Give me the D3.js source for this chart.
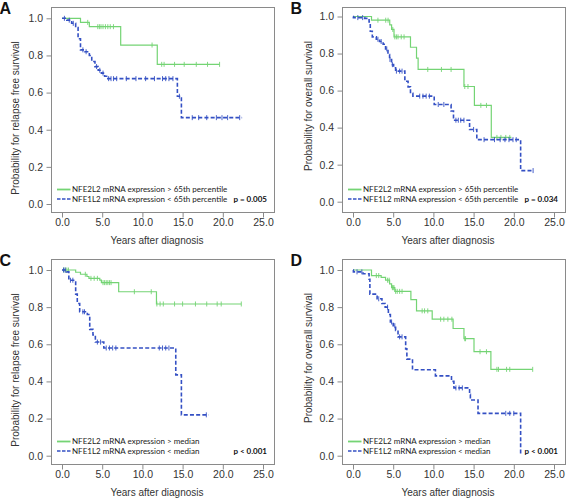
<!DOCTYPE html>
<html><head><meta charset="utf-8">
<script src="https://cdn.jsdelivr.net/npm/d3@7"></script>
<style>body{margin:0;background:#fff}</style>
</head><body>
<svg id="c" width="567" height="500" xmlns="http://www.w3.org/2000/svg"></svg>
<script>
// ---------- DATA ----------
const xTicks = [0, 5, 10, 15, 20, 25];
const yTicks = [0, 0.2, 0.4, 0.6, 0.8, 1.0];
const panelLabels = ["A", "B", "C", "D"];
const yTitles = ["Probability for relapse free survival", "Probability for overall survival",
                 "Probability for relapse free survival", "Probability for overall survival"];
const xTitle = "Years after diagnosis";
const legendHigh = ["NFE2L2 mRNA expression > 65th percentile", "NFE2L2 mRNA expression > 65th percentile",
                    "NFE2L2 mRNA expression > median", "NFE2L2 mRNA expression > median"];
const legendLow = ["NFE1L2 mRNA expression < 65th percentile", "NFE1L2 mRNA expression < 65th percentile",
                   "NFE1L2 mRNA expression < median", "NFE1L2 mRNA expression < median"];
const pValues = ["p = 0.005", "p = 0.034", "p < 0.001", "p < 0.001"];

// Panel A – high (green)
const aHighT = [2.3, 3.4, 7.3, 11.85];
const aHighS = [0.978, 0.955, 0.856, 0.752];
const aHighEnd = 19.6;
const aHighCens = [3.2, 4.45, 4.65, 4.85, 5.1, 5.4, 5.7, 6.0, 6.4, 11.2, 12.4, 12.7, 14.0, 15.2, 16.7, 18.1, 19.6];
// Panel A – low (blue)
const aLowT = [0.6, 1.2, 1.7, 2.0, 2.3, 2.85, 3.4, 3.7, 4.1, 4.5, 4.9, 5.3, 5.55, 14.35, 14.85];
const aLowS = [0.99, 0.973, 0.95, 0.89, 0.83, 0.82, 0.80, 0.767, 0.74, 0.72, 0.705, 0.688, 0.675, 0.58, 0.465];
const aLowEnd = 22.4;
const aLowCens = [0.3, 0.9, 1.4, 2.6, 3.0, 4.3, 4.7, 5.1, 5.8, 6.1, 6.4, 6.8, 8.0, 9.2, 10.4, 11.5, 12.5, 12.9, 13.3, 13.8, 14.6, 16.2, 17.0, 18.0, 19.2, 19.9, 20.6, 22.1];

// Panel B – high (green)
const bHighT = [2.3, 4.57, 4.8, 5.1, 7.15, 7.9, 8.1, 13.8, 15.1, 17.2];
const bHighS = [0.98, 0.955, 0.93, 0.89, 0.834, 0.775, 0.714, 0.622, 0.52, 0.347];
const bHighEnd = 19.7;
const bHighCens = [3.1, 4.07, 4.36, 4.95, 5.2, 5.4, 5.6, 6.0, 6.35, 9.3, 11.0, 12.2, 13.9, 14.3, 15.9, 16.6, 17.9, 18.4, 19.0, 19.5];
// Panel B – low (blue)
const bLowT = [0.05, 1.45, 2.0, 2.15, 2.4, 2.9, 3.3, 3.75, 4.05, 4.35, 4.55, 4.8, 5.05, 5.3, 6.45, 6.85, 7.15, 7.45, 10.1, 12.2, 12.5, 14.5, 15.4, 20.85];
const bLowS = [0.994, 0.99, 0.97, 0.92, 0.89, 0.877, 0.865, 0.85, 0.825, 0.795, 0.768, 0.74, 0.723, 0.705, 0.65, 0.62, 0.585, 0.57, 0.525, 0.49, 0.44, 0.39, 0.335, 0.168];
const bLowEnd = 22.4;
const bLowCens = [0.6, 1.2, 3.1, 3.5, 4.2, 4.6, 4.9, 5.4, 5.8, 6.1, 8.3, 8.7, 9.1, 9.5, 10.6, 11.3, 12.8, 13.1, 13.4, 13.8, 15.0, 16.3, 17.6, 18.3, 18.9, 19.4, 19.9, 20.3, 22.4];

// Panel C – high (green)
const cHighT = [1.7, 2.3, 3.1, 3.35, 4.7, 4.9, 7.05, 11.75];
const cHighS = [0.988, 0.977, 0.965, 0.955, 0.945, 0.932, 0.883, 0.817];
const cHighEnd = 22.3;
const cHighCens = [0.2, 0.4, 0.6, 0.8, 2.9, 3.6, 4.0, 4.4, 5.1, 5.3, 5.5, 5.7, 5.9, 6.1, 9.0, 11.1, 11.8, 12.2, 12.6, 14.0, 15.0, 16.6, 18.0, 19.3, 19.8, 22.3];
// Panel C – low (blue)
const cLowT = [0.55, 0.85, 1.7, 1.9, 2.2, 3.15, 3.45, 3.85, 4.15, 5.2, 14.15, 14.85];
const cLowS = [0.99, 0.945, 0.87, 0.82, 0.775, 0.76, 0.68, 0.65, 0.612, 0.58, 0.435, 0.22];
const cLowEnd = 18.25;
const cLowCens = [0.2, 0.4, 1.05, 1.35, 2.6, 2.8, 4.4, 4.8, 5.5, 5.9, 6.3, 6.7, 12.1, 12.5, 12.9, 13.3, 17.95];

// Panel D – high (green)
const dHighT = [2.3, 3.5, 4.05, 4.55, 4.8, 5.2, 7.2, 7.9, 9.85, 12.45, 13.8, 15.05, 17.15];
const dHighS = [0.97, 0.96, 0.945, 0.925, 0.905, 0.885, 0.84, 0.78, 0.735, 0.685, 0.63, 0.56, 0.465];
const dHighEnd = 22.35;
const dHighCens = [2.9, 3.2, 4.3, 4.5, 4.9, 5.0, 5.1, 5.3, 5.5, 5.8, 6.1, 8.6, 8.9, 9.3, 10.9, 11.3, 11.8, 12.3, 13.9, 14.0, 15.8, 16.6, 17.9, 18.1, 19.1, 19.5, 22.35];
// Panel D – low (blue)
const dLowT = [0.05, 1.25, 2.0, 2.1, 3.0, 3.6, 4.0, 4.4, 4.65, 5.0, 5.3, 5.6, 6.55, 6.7, 7.4, 10.25, 12.25, 12.55, 14.5, 14.6, 15.55, 20.85];
const dLowS = [0.99, 0.98, 0.95, 0.87, 0.845, 0.82, 0.80, 0.76, 0.72, 0.70, 0.675, 0.64, 0.575, 0.52, 0.463, 0.43, 0.40, 0.365, 0.33, 0.30, 0.228, 0.01];
const dLowEnd = 20.85;
const dLowCens = [0.5, 1.1, 3.2, 4.3, 4.8, 5.2, 5.8, 6.1, 12.8, 13.2, 13.6, 19.0, 19.5, 20.0];

// ---------- LAYOUT ----------
const panels = [
  {ox: 0,   oy: 0,   y1: 18.3, y0: 204,   tyc: 118, tyx: 15,
   high: {t: aHighT, s: aHighS, end: aHighEnd, c: aHighCens}, low: {t: aLowT, s: aLowS, end: aLowEnd, c: aLowCens}},
  {ox: 291, oy: 0,   y1: 16.5, y0: 201.7, tyc: 106, tyx: 17,
   high: {t: bHighT, s: bHighS, end: bHighEnd, c: bHighCens}, low: {t: bLowT, s: bLowS, end: bLowEnd, c: bLowCens}},
  {ox: 0,   oy: 252, y1: 18,   y0: 203.7, tyc: 118, tyx: 15,
   high: {t: cHighT, s: cHighS, end: cHighEnd, c: cHighCens}, low: {t: cLowT, s: cLowS, end: cLowEnd, c: cLowCens}},
  {ox: 291, oy: 252, y1: 18,   y0: 203.7, tyc: 106, tyx: 17,
   high: {t: dHighT, s: dHighS, end: dHighEnd, c: dHighCens}, low: {t: dLowT, s: dLowS, end: dLowEnd, c: dLowCens}}
];

const GREEN = "#74d474", BLUE = "#3450c4", FRAME = "#8a8a8a", TXT = "#333";
const FONT = "'Liberation Sans', Arial, sans-serif";
const LFONT = "Lato, 'Liberation Sans', sans-serif";

const svg = d3.select("#c");

function survAt(curve, t) {
  let v = 1;
  for (let i = 0; i < curve.t.length; i++) if (curve.t[i] <= t) v = curve.s[i];
  return v;
}

panels.forEach((p, i) => {
  const g = svg.append("g").attr("transform", `translate(${p.ox},${p.oy})`);
  const x = d3.scaleLinear().domain([0, 25]).range([62, 263]);
  const y = d3.scaleLinear().domain([0, 1]).range([p.y0, p.y1]);

  // frame
  g.append("rect").attr("x", 51.5).attr("y", 7.5).attr("width", 223).attr("height", 205)
    .attr("fill", "none").attr("stroke", FRAME).attr("stroke-width", 1);

  // x axis
  const xa = g.append("g").attr("transform", "translate(0,212.5)")
    .call(d3.axisBottom(x).tickValues(xTicks).tickFormat(d3.format(".1f")).tickSize(5).tickSizeOuter(0));
  xa.select(".domain").remove();
  xa.selectAll("line").attr("stroke", FRAME);
  xa.selectAll("text").attr("fill", TXT).attr("font-family", FONT).attr("font-size", 10.5).attr("dy", "0.9em").attr("y", 4);

  // y axis
  const ya = g.append("g").attr("transform", "translate(51.5,0)")
    .call(d3.axisLeft(y).tickValues(yTicks).tickFormat(d3.format(".1f")).tickSize(5).tickSizeOuter(0));
  ya.select(".domain").remove();
  ya.selectAll("line").attr("stroke", FRAME);
  ya.selectAll("text").attr("fill", TXT).attr("font-family", FONT).attr("font-size", 10.5).attr("x", -8.5);

  // titles
  g.append("text").attr("x", 157).attr("y", 244).attr("text-anchor", "middle")
    .attr("font-family", FONT).attr("font-size", 10).attr("fill", TXT).text(xTitle);
  g.append("text").attr("transform", `translate(${p.tyx},${p.tyc}) rotate(-90)`).attr("text-anchor", "middle")
    .attr("dy", "0.35em").attr("font-family", FONT).attr("font-size", 10).attr("fill", TXT).text(yTitles[i]);

  // panel label
  g.append("text").attr("x", -0.5).attr("y", 14).attr("font-family", FONT).attr("font-weight", "bold")
    .attr("font-size", 16).attr("fill", "#111").text(panelLabels[i]);

  // curves
  const line = d3.line().x(d => x(d[0])).y(d => y(d[1])).curve(d3.curveStepAfter);
  const draw = (curve, color, width, dash) => {
    const pts = [[0, 1]];
    curve.t.forEach((t, k) => pts.push([t, curve.s[k]]));
    pts.push([curve.end, curve.s[curve.s.length - 1]]);
    g.append("path").datum(pts).attr("d", line).attr("fill", "none")
      .attr("stroke", color).attr("stroke-width", width).attr("stroke-dasharray", dash);
    g.append("g").selectAll("line").data(curve.c).join("line")
      .attr("x1", d => x(d)).attr("x2", d => x(d))
      .attr("y1", d => y(survAt(curve, d)) - 2.5).attr("y2", d => y(survAt(curve, d)) + 2.5)
      .attr("stroke", color).attr("stroke-width", 0.9);
  };
  draw(p.high, GREEN, 1.2, null);
  draw(p.low, BLUE, 1.6, "4,2.2");

  // legend
  g.append("line").attr("x1", 57).attr("x2", 70.5).attr("y1", 189.5).attr("y2", 189.5)
    .attr("stroke", GREEN).attr("stroke-width", 1.8);
  g.append("line").attr("x1", 57).attr("x2", 70.5).attr("y1", 199).attr("y2", 199)
    .attr("stroke", BLUE).attr("stroke-width", 1.6).attr("stroke-dasharray", "3.5,1.5");
  g.append("text").attr("x", 72).attr("y", 189.5).attr("dy", "0.35em").attr("font-family", LFONT)
    .attr("font-size", 8).attr("fill", "#222").text(legendHigh[i]);
  g.append("text").attr("x", 72).attr("y", 199).attr("dy", "0.35em").attr("font-family", LFONT)
    .attr("font-size", 8).attr("fill", "#222").text(legendLow[i]);
  g.append("text").attr("x", 267).attr("y", 199).attr("dy", "0.35em").attr("text-anchor", "end")
    .attr("font-family", LFONT).attr("font-weight", "bold").attr("font-size", 8).attr("fill", "#111").text(pValues[i]);
});
</script>
</body></html>
